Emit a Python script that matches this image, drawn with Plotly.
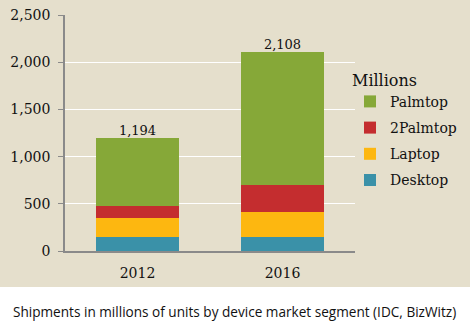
import plotly.graph_objects as go

# Shipments (millions of units) by device segment
years = ["2012", "2016"]
desktop = [151, 151]
laptop = [202, 262]
two_palmtop = [124, 289]
palmtop = [717, 1406]

series_names = ["Desktop", "Laptop", "2Palmtop", "Palmtop"]
series_values = [desktop, laptop, two_palmtop, palmtop]
series_colors = ["#3a91a8", "#fdb710", "#c42d2f", "#86a838"]

y_ticks = [0, 500, 1000, 1500, 2000, 2500]

totals = [sum(v) for v in zip(*series_values)]

BEIGE = "#e5dfcc"
W, H = 470, 336
ML, MR, MT, MB = 65, 115, 15, 85
plot_h = H - MT - MB
plot_w = W - ML - MR

fig = go.Figure()
n = len(series_names)
for i, (name, vals, color) in enumerate(zip(series_names, series_values, series_colors)):
    fig.add_trace(go.Bar(
        x=years, y=vals, name=name, marker_color=color,
        marker_line_width=0, legendgroup=name, legendrank=n - i,
    ))

# total labels above each stack
fig.add_trace(go.Scatter(
    x=years, y=totals, mode="text",
    text=[f"{t:,}" for t in totals], textposition="top center",
    textfont=dict(family="DejaVu Serif", size=13, color="#111111"),
    showlegend=False, hoverinfo="skip", cliponaxis=False,
))

serif = "DejaVu Serif"

fig.update_layout(
    template="none",
    width=W, height=H,
    margin=dict(l=ML, r=MR, t=MT, b=MB, pad=0, autoexpand=False),
    barmode="stack", bargap=0.43,
    paper_bgcolor=BEIGE, plot_bgcolor=BEIGE,
    font=dict(family=serif, size=13, color="#111111"),
    showlegend=True,
    legend=dict(
        title=dict(text="Millions", font=dict(family=serif, size=16, color="#111111")),
        traceorder="grouped", tracegroupgap=5,
        x=(350 - ML) / plot_w, xanchor="left",
        y=(H - MB - 65) / plot_h, yanchor="top",
        bgcolor="rgba(0,0,0,0)", borderwidth=0,
        font=dict(family=serif, size=14, color="#111111"),
        itemwidth=30,
    ),
    xaxis=dict(
        type="category",
        showgrid=False, showline=True, linecolor="#8a8a8a", linewidth=1.5,
        ticks="", tickfont=dict(family=serif, size=14),
        ticklabelstandoff=8, fixedrange=True, automargin=False,
    ),
    yaxis=dict(
        range=[0, 2500], tickvals=y_ticks,
        ticktext=[f"{v:,}" for v in y_ticks],
        showgrid=True, gridcolor="#ffffff", gridwidth=1.2,
        showline=True, linecolor="#8a8a8a", linewidth=1.5,
        ticks="outside", ticklen=5, tickcolor="#8a8a8a",
        tickfont=dict(family=serif, size=14),
        ticklabelstandoff=5, zeroline=False, fixedrange=True, automargin=False,
    ),
    shapes=[dict(
        type="rect", xref="paper", yref="paper",
        x0=-ML / plot_w, x1=(W - ML) / plot_w,
        y0=-MB / plot_h, y1=-36 / plot_h,
        fillcolor="#ffffff", line_width=0, layer="below",
    )],
    annotations=[dict(
        text="Shipments in millions of units by device market segment (IDC, BizWitz)",
        xref="paper", yref="paper",
        x=(234 - ML) / plot_w, y=-(311 - (H - MB)) / plot_h,
        xanchor="center", yanchor="middle", showarrow=False,
        font=dict(family="Open Sans", size=13.6, color="#111111"),
    )],
)

fig.write_html("out.html")
